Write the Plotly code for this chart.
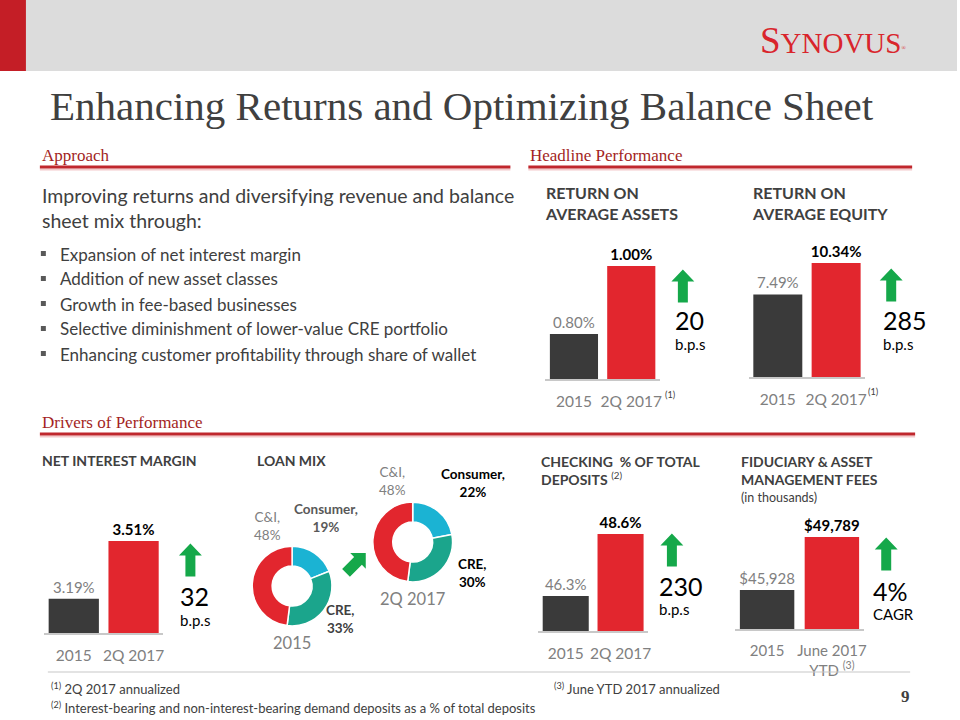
import math
import plotly.graph_objects as go

W, H = 960, 720

# ---------------- DATA ----------------
years = ["2015", "2Q 2017"]
roaa_values = [0.80, 1.00]
roae_values = [7.49, 10.34]
nim_values = [3.19, 3.51]
checking_values = [46.3, 48.6]
fiduciary_categories = ["2015", "June 2017 YTD"]
fiduciary_values = [45928, 49789]
fiduciary_cagr = 4
loan_segments = ["Consumer", "CRE", "C&I"]
loan_mix_2015 = [19, 33, 48]
loan_mix_2q2017 = [22, 30, 48]
approach_intro = "Improving returns and diversifying revenue and balance<br>sheet mix through:"
approach_bullets = [
    "Expansion of net interest margin",
    "Addition of new asset classes",
    "Growth in fee-based businesses",
    "Selective diminishment of lower-value CRE portfolio",
    "Enhancing customer profitability through share of wallet",
]
footnotes = [
    "<sup>(1)</sup> 2Q 2017 annualized",
    "<sup>(2)</sup> Interest-bearing and non-interest-bearing demand deposits as a % of total deposits",
    "<sup>(3)</sup> June YTD 2017 annualized",
]

# ---------------- STYLE ----------------
SANS = "Lato"
SERIF = "Liberation Serif"
RED = "#e2262e"
DARK = "#3a3a3a"
GRAY = "#808080"
TXT = "#404040"
GREEN = "#15a84a"
SEC_RED = "#a31f24"
TEAL = "#1ba58c"
BLUE = "#1bb3d3"


def px(x):
    return x / W


def py(y):
    return 1 - y / H


fig = go.Figure()
shapes = []
ann = []


def text(x, y, t, size=14, color=TXT, family=SANS, xanchor="left", yanchor="middle", align="left"):
    ann.append(dict(xref="paper", yref="paper", x=px(x), y=py(y), text=t, showarrow=False,
                    font=dict(size=size, color=color, family=family),
                    xanchor=xanchor, yanchor=yanchor, align=align))


def poly_path(pts):
    return "M " + " L ".join(f"{px(a):.5f},{py(b):.5f}" for a, b in pts) + " Z"


def arrow(cx, cy, length=32, head_w=23, shaft_w=10, head_h=12, angle=0.0):
    top = -length / 2
    bot = length / 2
    pts = [(0, top), (head_w / 2, top + head_h), (shaft_w / 2, top + head_h), (shaft_w / 2, bot),
           (-shaft_w / 2, bot), (-shaft_w / 2, top + head_h), (-head_w / 2, top + head_h)]
    t = math.radians(angle)
    out = []
    for x, y in pts:
        xr = x * math.cos(t) - y * math.sin(t)
        yr = x * math.sin(t) + y * math.cos(t)
        out.append((cx + xr, cy + yr))
    shapes.append(dict(type="path", xref="paper", yref="paper", path=poly_path(out),
                       fillcolor=GREEN, line=dict(width=0)))


def rect(x0, y0, x1, y1, color):
    shapes.append(dict(type="rect", xref="paper", yref="paper", x0=px(x0), x1=px(x1),
                       y0=py(y1), y1=py(y0), fillcolor=color, line=dict(width=0), layer="below"))


def hline(x0, x1, y, color, width):
    shapes.append(dict(type="line", xref="paper", yref="paper", x0=px(x0), x1=px(x1),
                       y0=py(y), y1=py(y), line=dict(color=color, width=width)))


# ---------------- BAR CHARTS ----------------
def bar_chart(idx, cats, vals, labels, x0, x1, axis_y, top2_px, lo, ticktext):
    k = (axis_y - top2_px) / (vals[1] - lo)
    span = 170
    hi = lo + span / k
    xa, ya = f"x{idx}", f"y{idx}"
    fig.add_trace(go.Bar(
        x=cats, y=vals, xaxis=xa, yaxis=ya,
        marker=dict(color=[DARK, RED], line=dict(width=0)),
        text=labels, textposition="outside", constraintext="none",
        textfont=dict(family=SANS, size=15, color=[GRAY, "#000000"]),
        hoverinfo="skip",
    ))
    fig.layout[f"xaxis{idx}"] = dict(
        domain=[px(x0), px(x1)], anchor=ya, showline=True, linecolor="#c8c8c8", linewidth=2,
        showgrid=False, zeroline=False, ticks="outside", ticklen=7, tickcolor="rgba(0,0,0,0)",
        tickvals=cats, ticktext=ticktext, tickfont=dict(family=SANS, size=15.5, color=GRAY),
        fixedrange=True)
    fig.layout[f"yaxis{idx}"] = dict(
        domain=[py(axis_y), py(axis_y - span)], anchor=xa, range=[lo, hi], visible=False,
        fixedrange=True)


def pct(v, d):
    return f"{v:.{d}f}%"


bar_chart(1, years, roaa_values, [pct(roaa_values[0], 2), f"<b>{pct(roaa_values[1], 2)}</b>"],
          547, 662, 379, 266, 0.668, years)
bar_chart(2, years, roae_values, [pct(roae_values[0], 2), f"<b>{pct(roae_values[1], 2)}</b>"],
          751, 868, 377, 263, 0.0, years)
bar_chart(3, years, nim_values, [pct(nim_values[0], 2), f"<b>{pct(nim_values[1], 2)}</b>"],
          44, 164, 633, 541, 3.0, years)
bar_chart(4, years, checking_values, [pct(checking_values[0], 1), f"<b>{pct(checking_values[1], 1)}</b>"],
          540, 650, 631, 534, 45.0, years)
bar_chart(5, fiduciary_categories, fiduciary_values,
          [f"${fiduciary_values[0]:,}", f"<b>${fiduciary_values[1]:,}</b>"],
          737, 867, 629, 537, 43100, ["2015", "June 2017<br>YTD <sup>(3)</sup>"])
fig.update_layout(bargap=0.16)
fig.layout["xaxis5"]["tickfont"]["size"] = 15

# ---------------- DONUTS ----------------
donut_colors = [BLUE, TEAL, RED]
for vals, (cx, cy) in [(loan_mix_2015, (293, 586)), (loan_mix_2q2017, (414, 542))]:
    r = 40
    fig.add_trace(go.Pie(
        labels=loan_segments, values=vals, hole=0.5, sort=False, direction="clockwise", rotation=0,
        marker=dict(colors=donut_colors, line=dict(color="white", width=1.5)),
        textinfo="none", hoverinfo="skip", showlegend=False,
        domain=dict(x=[px(cx - r), px(cx + r)], y=[py(cy + r), py(cy - r)]),
    ))

# donut labels
text(268, 526, f"{loan_segments[2]},<br>{loan_mix_2015[2]}%", 13.5, GRAY, xanchor="center", align="center")
text(327, 518, f"<b>{loan_segments[0]},<br>{loan_mix_2015[0]}%</b>", 13.5, "#595959", xanchor="center", align="center")
text(342, 619, f"<b>{loan_segments[1]},<br>{loan_mix_2015[1]}%</b>", 13.5, "#404040", xanchor="center", align="center")
text(293, 643, "2015", 16.5, GRAY, xanchor="center")
text(394, 481, f"{loan_segments[2]},<br>{loan_mix_2q2017[2]}%", 13.5, GRAY, xanchor="center", align="center")
text(474, 483, f"<b>{loan_segments[0]},<br>{loan_mix_2q2017[0]}%</b>", 13.5, "#000000", xanchor="center", align="center")
text(474, 573, f"<b>{loan_segments[1]},<br>{loan_mix_2q2017[1]}%</b>", 13.5, "#000000", xanchor="center", align="center")
text(414, 599, "2Q 2017", 16.5, GRAY, xanchor="center")
arrow(357, 563, length=28, head_w=22, shaft_w=11, head_h=11, angle=45)

# ---------------- HEADER ----------------
rect(0, 0, 960, 71, "#dcdcdc")
rect(0, 0, 26, 71, "#c41e26")
text(836, 40, "S<span style='font-size:29px'>YNOVUS</span><span style='font-size:8px'><sup>®</sup></span>",
     37, "#d9252c", family=SERIF, xanchor="center")
text(48, 106, "Enhancing Returns and Optimizing Balance Sheet", 41, TXT, family=SERIF)

# section headers
text(40, 155, "Approach", 17, SEC_RED, family=SERIF)
text(530, 155, "Headline Performance", 17, SEC_RED, family=SERIF)
text(40, 422, "Drivers of Performance", 17, SEC_RED, family=SERIF)
for x0, x1, y in [(40, 512, 167), (530, 915, 167), (40, 918, 434)]:
    hline(x0, x1, y + 2.5, "#f3c9cb", 2)
    hline(x0, x1, y, "#c0272d", 3)

# approach text
text(40, 208, approach_intro, 19.5, TXT)
for i, b in enumerate(approach_bullets):
    yb = 254 + i * 25
    rect(41, yb - 3, 46, yb + 2, "#595959")
    text(58, yb, b, 17, TXT)

# chart titles
text(545, 203, "<b>RETURN ON<br>AVERAGE ASSETS</b>", 16, TXT)
text(752, 203, "<b>RETURN ON<br>AVERAGE EQUITY</b>", 16, TXT)
text(40, 461, "<b>NET INTEREST MARGIN</b>", 14, TXT)
text(256, 461, "<b>LOAN MIX</b>", 14, TXT)
text(541, 470, "<b>CHECKING  % OF TOTAL<br>DEPOSITS</b> <sup>(2)</sup>", 14, TXT)
text(741, 470, "<b>FIDUCIARY &amp; ASSET<br>MANAGEMENT FEES</b>", 14, TXT)
text(741, 497, "(in thousands)", 12.5, TXT)

# superscripts next to tick labels
text(665, 394, "<sup>(1)</sup>", 13, TXT)
text(869, 392, "<sup>(1)</sup>", 13, TXT)


# change callouts
def bps(v):
    return round((v[1] - v[0]) * 100)


callouts = [
    (685, 286, 675, 320, 344, str(bps(roaa_values)), "b.p.s"),
    (894, 285, 884, 320, 344, str(bps(roae_values)), "b.p.s"),
    (191, 560, 179, 596, 620, str(bps(nim_values)), "b.p.s"),
    (674, 550, 659, 586, 609, str(bps(checking_values)), "b.p.s"),
    (889, 554, 874, 591, 614, f"{fiduciary_cagr}%", "CAGR"),
]
for ax_, ay_, tx, ty1, ty2, big, small in callouts:
    arrow(ax_, ay_, length=33)
    text(tx, ty1, big, 25, "#000000")
    text(tx, ty2, small, 15, "#000000")

# footer
hline(48, 913, 672, "#c8c8c8", 1.2)
text(49, 688, footnotes[0], 13, TXT)
text(49, 707, footnotes[1], 13, TXT)
text(554, 688, footnotes[2], 13, TXT)
text(908, 696, "<b>9</b>", 17, TXT, family=SERIF, xanchor="center")

fig.update_layout(
    width=W, height=H, margin=dict(l=0, r=0, t=0, b=0),
    paper_bgcolor="white", plot_bgcolor="rgba(0,0,0,0)", showlegend=False,
    shapes=shapes, annotations=ann,
)

fig.write_html("out.html", config={"displayModeBar": False},
               post_script="document.body.style.margin='0';document.body.style.overflow='hidden';")
